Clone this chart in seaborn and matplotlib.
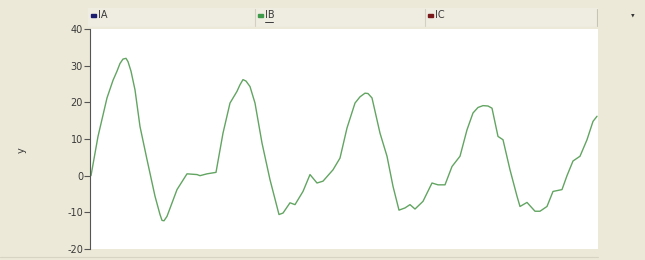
import matplotlib
matplotlib.use("Agg")
import matplotlib.pyplot as plt
import seaborn as sns
import pandas as pd
from matplotlib.patches import Rectangle

# ---- data ----
t = [1, 8, 17, 23, 27, 30, 33, 36, 38, 41, 45, 50, 57, 65, 70, 72, 74, 77, 87, 97,
     107, 110, 117, 126, 133, 140, 147, 150, 153, 156, 160, 165, 172, 180, 189, 193,
     200, 205, 213, 220, 227, 233, 243, 250, 257, 265, 270, 275, 278, 282, 290, 297,
     303, 309, 315, 320, 325, 333, 342, 348, 355, 362, 370, 377, 383, 388, 393, 398,
     402, 408, 413, 420, 427, 430, 437, 445, 450, 457, 463, 472, 477, 483, 490, 497,
     503, 507]
ib = [0.0, 10.7, 21.2, 26.0, 28.5, 30.6, 31.8, 32.0, 31.1, 28.5, 23.4, 13.4, 4.4,
      -5.6, -10.6, -12.2, -12.3, -11.1, -3.8, 0.5, 0.3, 0.0, 0.5, 0.9, 11.6, 19.8,
      23.0, 24.8, 26.2, 25.8, 24.3, 19.8, 8.9, -1.1, -10.6, -10.2, -7.4, -7.9, -4.3,
      0.3, -2.0, -1.5, 1.6, 4.8, 13.0, 19.8, 21.5, 22.5, 22.4, 21.2, 11.6, 5.3, -2.9,
      -9.4, -8.8, -7.9, -9.1, -7.0, -2.0, -2.5, -2.5, 2.5, 5.3, 12.5, 17.1, 18.6,
      19.1, 19.0, 18.4, 10.7, 9.8, 1.6, -5.6, -8.4, -7.3, -9.7, -9.7, -8.4, -4.3,
      -3.8, 0.0, 4.0, 5.3, 9.8, 14.8, 16.2]
series_names = ["IA", "IB", "IC"]
series_colors = ["#1a1a6e", "#3f9a4a", "#7a1a1a"]
y_ticks = [-20, -10, 0, 10, 20, 30, 40]

df = pd.DataFrame({"t": t, "IB": ib})

BEIGE = "#ECE9D8"
W, H = 645, 260

sns.set_theme(style="white")
plt.rcParams["font.family"] = ["DejaVu Sans"]

fig = plt.figure(figsize=(W / 100, H / 100), dpi=100)
fig.patch.set_facecolor(BEIGE)

# plot area: x 90..598, y 29..249 (pixels from top)
ax = fig.add_axes([90 / W, (H - 249) / H, (598 - 90) / W, (249 - 29) / H])
ax.set_facecolor("white")
sns.lineplot(data=df, x="t", y="IB", ax=ax, color="#62a462", linewidth=1.0)
ax.set_xlim(0, 508)
ax.set_ylim(-20, 40)
ax.set_yticks(y_ticks)
ax.set_yticklabels([str(v) for v in y_ticks], fontsize=7, color="#3a3a3a")
ax.tick_params(axis="y", direction="out", length=4, width=0.8, color="#555555",
               left=True, pad=1)
ax.set_xticks([])
ax.set_xlabel("")
ax.set_ylabel("")
for s in ["top", "right", "bottom"]:
    ax.spines[s].set_visible(False)
ax.spines["left"].set_color("#555555")
ax.spines["left"].set_linewidth(0.8)

# y label
fig.text(22 / W, 1 - 150 / H, "y", rotation=90, fontsize=7, color="#3a3a3a",
         ha="center", va="center")

# legend band across the top
band = fig.add_axes([88 / W, (H - 27) / H, (598 - 88) / W, (27 - 8) / H])
band.set_xlim(88, 598)
band.set_ylim(27, 8)
band.set_facecolor("#EFEDE1")
band.set_xticks([])
band.set_yticks([])
for s in band.spines.values():
    s.set_visible(False)
cells = [(88, 255), (255, 425), (425, 598)]
for (x0, x1) in cells[1:]:
    band.plot([x0, x0], [9, 26], color="#d4d0c0", linewidth=0.8)
band.plot([597, 597], [9, 26], color="#c8c4b4", linewidth=0.8)
band.plot([88, 598], [26.5, 26.5], color="#d8d4c4", linewidth=0.8)
for (x0, x1), name, col in zip(cells, series_names, series_colors):
    band.add_patch(Rectangle((x0 + 3, 13.5), 5, 3.5, color=col))
    band.text(x0 + 10, 15.5, name, fontsize=7, color="#3a3a3a", va="center", ha="left")
# focused entry underline (IB)
band.plot([cells[1][0] + 10, cells[1][0] + 18], [21.5, 21.5], color="#3a3a3a",
          linewidth=0.7)

fig.text(632 / W, 1 - 15 / H, "\u25b8", fontsize=5, color="#333333",
         ha="center", va="center", rotation=-90)

# bottom edge line
fig.add_artist(plt.Line2D([0, 598 / W], [3 / H, 3 / H], color="#d8d4c4", linewidth=0.8))

fig.savefig("out.png", dpi=100, facecolor=BEIGE)
